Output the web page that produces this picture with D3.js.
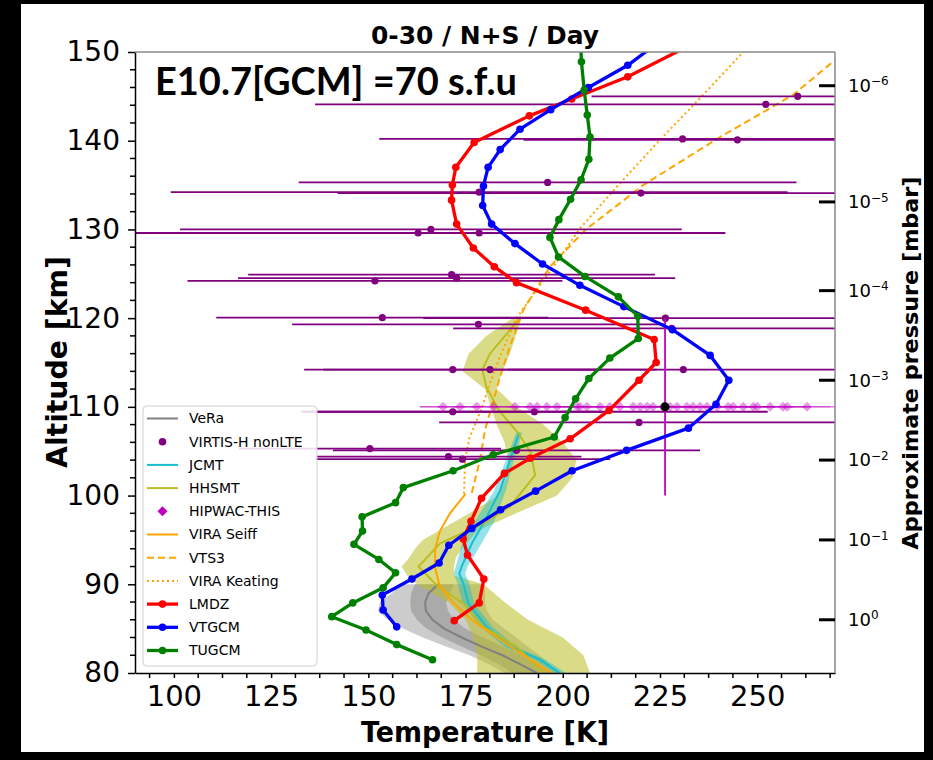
<!DOCTYPE html>
<html>
<head>
<meta charset="utf-8">
<script src="https://cdn.jsdelivr.net/npm/d3@7"></script>
<style>
body { margin: 0; background: #000; }
svg { display: block; }
</style>
</head>
<body>
<script>
// ---- data (altitude in km, temperature in K) ----
var lmdzAlt = [150.5, 147.2, 144.7, 142.8, 139.8, 137.0, 135.0, 133.3, 130.6, 127.9, 125.8, 124.0, 120.9, 117.6, 115.0, 113.0, 109.6, 106.4, 104.2, 102.5, 99.7, 97.1, 95.1, 93.3, 90.6, 87.9, 85.9];
var lmdzT   = [231.5, 216.7, 202.3, 191.4, 177.2, 172.5, 171.6, 171.4, 172.7, 177.0, 182.4, 188.1, 205.9, 223.5, 224.0, 219.6, 211.9, 201.9, 191.6, 185.0, 179.1, 176.4, 174.4, 175.5, 179.7, 178.5, 172.1];

var vtgcmAlt = [150.9, 148.5, 146.0, 143.5, 141.3, 139.0, 137.0, 134.9, 132.7, 130.6, 128.4, 126.1, 123.7, 121.3, 118.7, 115.8, 113.0, 110.3, 107.6, 105.1, 102.8, 100.5, 98.4, 96.3, 94.4, 92.4, 90.6, 88.8, 87.1, 85.2];
var vtgcmT   = [224.0, 216.7, 206.6, 196.9, 189.0, 183.9, 180.8, 179.6, 179.4, 181.7, 187.7, 194.8, 204.4, 215.7, 228.2, 237.9, 242.7, 239.4, 232.3, 216.4, 202.4, 193.0, 184.0, 176.6, 170.7, 168.2, 161.2, 153.6, 153.8, 157.3];

var tugcmAlt = [151.8, 148.9, 145.7, 142.9, 140.4, 137.9, 135.6, 133.4, 131.1, 129.1, 126.9, 124.7, 122.4, 120.2, 117.7, 115.5, 113.2, 110.9, 108.8, 106.6, 104.6, 102.8, 100.9, 99.2, 97.6, 96.0, 94.5, 92.8, 91.3, 89.6, 87.9, 86.35, 84.85, 83.2, 81.5];
var tugcmT   = [204.5, 204.8, 205.5, 206.3, 207.0, 206.7, 204.7, 202.0, 199.0, 196.7, 198.9, 205.7, 214.3, 219.3, 219.4, 212.1, 206.7, 203.3, 200.6, 197.8, 182.1, 171.8, 159.0, 157.0, 148.4, 148.5, 146.3, 152.7, 157.0, 153.8, 146.0, 140.6, 149.4, 157.3, 166.5];

var veraAlt    = [90, 89, 88, 87, 86, 85, 84, 83, 82, 81, 80];
var veraT      = [168.0, 165.5, 164.6, 164.8, 166.5, 169.5, 174.0, 179.0, 184.5, 189.0, 193.3];
var veraStdLo  = [162.0, 161.0, 160.8, 161.0, 162.5, 165.0, 169.0, 174.0, 179.0, 183.5, 187.0];
var veraStdHi  = [172.0, 171.0, 170.0, 170.5, 172.0, 175.0, 179.5, 184.5, 189.5, 193.5, 197.0];
var veraMinT   = [158.5, 156.0, 153.0, 152.5, 155.0, 159.0, 164.0, 170.0, 176.0, 181.0, 185.0];
var veraMaxT   = [180.0, 180.0, 180.0, 180.5, 182.0, 185.0, 188.0, 191.0, 194.0, 196.5, 199.0];

var jcmtAlt = [107.1, 104.0, 100.6, 97.2, 94.6, 92.0, 91.2, 90.0, 87.85, 85.2, 83.0, 81.5, 80.0];
var jcmtT   = [188.8, 186.4, 183.9, 180.0, 176.6, 174.0, 173.4, 174.5, 175.7, 180.4, 186.4, 194.1, 199.3];
var jcmtLo  = [188.0, 185.4, 182.4, 177.5, 174.1, 172.5, 171.9, 173.0, 174.2, 178.9, 184.9, 192.6, 197.8];
var jcmtHi  = [189.6, 187.4, 185.4, 182.5, 179.1, 175.5, 174.9, 176.0, 177.2, 181.9, 187.9, 195.6, 200.8];

var hhsmtAlt = [120.0, 116.0, 114.2, 112.2, 109.6, 107.0, 104.8, 102.3, 98.75, 97.05, 94.6, 92.0, 89.7, 87.85, 85.2, 83.0, 80.0];
var hhsmtT   = [189.0, 181.3, 179.3, 180.4, 183.6, 188.6, 191.8, 192.9, 186.4, 180.4, 168.4, 162.9, 168.0, 174.4, 179.6, 188.1, 195.0];
var hhsmtBandAlt = [120, 118, 116, 114, 112, 110, 108, 106, 104, 102, 100, 98, 96, 95, 94, 93, 92, 91, 90, 88, 86, 84, 82, 80];
var hhsmtLo = [187.1, 180.3, 175.8, 174.2, 180.0, 181.5, 183.0, 185.0, 186.0, 185.5, 183.5, 176.0, 168.0, 164.0, 162.0, 160.5, 158.6, 160.0, 162.5, 170.5, 175.0, 177.0, 178.0, 178.0];
var hhsmtHi = [189.4, 187.9, 186.4, 184.5, 183.0, 188.0, 195.0, 200.0, 203.5, 202.5, 198.5, 188.0, 178.0, 176.0, 174.0, 172.5, 172.0, 172.0, 179.6, 185.0, 191.0, 200.0, 205.3, 207.0];

var seiffAlt = [100.2, 98, 96, 94, 92, 90, 88, 86, 84, 82, 80];
var seiffT   = [175.0, 171.0, 168.4, 167.2, 167.1, 168.2, 171.6, 176.6, 183.1, 190.0, 197.0];

var vts3Alt = [100.3, 104.0, 107.4, 110.0, 113.4, 116.8, 120.9, 125.8, 129.9, 135.0, 140.3, 145.2, 149.1, 152.0];
var vts3T   = [176.6, 178.7, 180.0, 181.7, 183.9, 186.4, 189.8, 196.7, 205.7, 220.7, 240.0, 259.3, 270.0, 278.0];

var keatingAlt = [100.2, 104.0, 106.5, 110.0, 112.7, 115.7, 120.0, 123.0, 127.0, 130.1, 135.2, 140.1, 144.8, 150.5];
var keatingT   = [174.6, 174.9, 176.0, 179.3, 181.3, 183.9, 188.1, 193.0, 199.5, 204.4, 214.7, 225.0, 235.3, 247.5];

var virtisAlt = [145.0, 144.1, 140.2, 140.1, 135.3, 134.1, 134.2, 130.0, 129.6, 129.6, 124.9, 124.5, 124.2, 120.05, 120.0, 119.3, 118.85, 114.2, 114.2, 114.2, 109.45, 109.45, 108.25, 105.3, 105.1, 104.4, 104.1];
var virtisT   = [260.4, 252.2, 230.8, 244.9, 196.1, 220.1, 178.5, 166.1, 162.8, 178.5, 171.4, 172.7, 151.7, 153.6, 226.4, 178.3, 228.0, 171.7, 181.3, 231.0, 171.7, 192.7, 219.6, 150.4, 188.1, 170.6, 174.2];
var virtisErr = [53.0, 115.9, 78.0, 55.0, 64.0, 78.0, 79.3, 64.5, 79.0, 60.0, 52.3, 56.2, 48.2, 42.7, 62.3, 47.9, 56.2, 38.2, 42.9, 45.0, 38.4, 60.0, 51.4, 33.7, 47.2, 34.2, 38.0];

var hipwacAlt = 110;
var hipwacT = [169.2, 173.6, 177.9, 182.1, 187.7, 191.6, 193.4, 195.9, 198.5, 203.7, 204.4, 206.2, 209.6, 212.1, 214.7, 218.1, 219.9, 221.7, 223.2, 225.8, 227.6, 229.4, 231.9, 233.5, 235.3, 237.1, 239.7, 242.5, 243.8, 246.4, 249.0, 250.0, 253.3, 256.6, 257.7, 262.8];
var hipwacErr = 6;
var hipwacMean = { t: 226.3, a: 110, errA: 10, errT: 63 };

var xTicks = [100, 125, 150, 175, 200, 225, 250];
var yTicks = [80, 90, 100, 110, 120, 130, 140, 150];
var pressureExp = [-6, -5, -4, -3, -2, -1, 0];
var pressureAlt = [146.2, 133.1, 123.1, 113.0, 104.0, 95.0, 86.0];

var legendNames = ["VeRa", "VIRTIS-H nonLTE", "JCMT", "HHSMT", "HIPWAC-THIS", "VIRA Seiff", "VTS3", "VIRA Keating", "LMDZ", "VTGCM", "TUGCM"];

// ---- drawing ----
var W = 933, H = 760;
var svg = d3.select("body").append("svg")
    .attr("width", W)
    .attr("height", H)
    .style("font-family", "'DejaVu Sans', sans-serif");

svg.append("rect").attr("width", W).attr("height", H).attr("fill", "#000");
svg.append("rect").attr("x", 21).attr("y", 4).attr("width", 903).attr("height", 748).attr("fill", "#fff");

var x = d3.scaleLinear().domain([90, 270]).range([135, 835]);
var y = d3.scaleLinear().domain([80, 150]).range([673, 52]);

svg.append("clipPath").attr("id", "plot")
    .append("rect").attr("x", 135).attr("y", 52).attr("width", 700).attr("height", 621);

var plot = svg.append("g").attr("clip-path", "url(#plot)");

function zipAT(alts, ts) {
    return alts.map(function(a, i) { return { a: a, t: ts[i] }; });
}
function zipBand(alts, lo, hi) {
    return alts.map(function(a, i) { return { a: a, lo: lo[i], hi: hi[i] }; });
}

var line = d3.line().x(function(d) { return x(d.t); }).y(function(d) { return y(d.a); });
var band = d3.area()
    .y(function(d) { return y(d.a); })
    .x0(function(d) { return x(d.lo); })
    .x1(function(d) { return x(d.hi); });

// bands
plot.append("path").datum(zipBand(veraAlt, veraMinT, veraMaxT))
    .attr("d", band).attr("fill", "#808080").attr("fill-opacity", 0.4);
plot.append("path").datum(zipBand(veraAlt, veraStdLo, veraStdHi))
    .attr("d", band).attr("fill", "#808080").attr("fill-opacity", 0.45);
plot.append("path").datum(zipBand(hhsmtBandAlt, hhsmtLo, hhsmtHi))
    .attr("d", band).attr("fill", "#bcbd22").attr("fill-opacity", 0.55);
plot.append("path").datum(zipBand(jcmtAlt, jcmtLo, jcmtHi))
    .attr("d", band).attr("fill", "#17becf").attr("fill-opacity", 0.45);

// observation lines
plot.append("path").datum(zipAT(veraAlt, veraT)).attr("d", line)
    .attr("fill", "none").attr("stroke", "#808080").attr("stroke-width", 2);
plot.append("path").datum(zipAT(jcmtAlt, jcmtT)).attr("d", line)
    .attr("fill", "none").attr("stroke", "#17becf").attr("stroke-width", 2);
plot.append("path").datum(zipAT(hhsmtAlt, hhsmtT)).attr("d", line)
    .attr("fill", "none").attr("stroke", "#bcbd22").attr("stroke-width", 2);

// VIRA reference profiles
plot.append("path").datum(zipAT(seiffAlt, seiffT)).attr("d", line)
    .attr("fill", "none").attr("stroke", "#ffa500").attr("stroke-width", 2);
plot.append("path").datum(zipAT(vts3Alt, vts3T)).attr("d", line)
    .attr("fill", "none").attr("stroke", "#ffa500").attr("stroke-width", 2)
    .attr("stroke-dasharray", "7,4");
plot.append("path").datum(zipAT(keatingAlt, keatingT)).attr("d", line)
    .attr("fill", "none").attr("stroke", "#ffa500").attr("stroke-width", 2)
    .attr("stroke-dasharray", "2,3");

// VIRTIS-H error bars and points
var virtis = virtisAlt.map(function(a, i) { return { a: a, t: virtisT[i], e: virtisErr[i] }; });
plot.selectAll(".verr").data(virtis).enter().append("line")
    .attr("x1", function(d) { return x(d.t - d.e); })
    .attr("x2", function(d) { return x(d.t + d.e); })
    .attr("y1", function(d) { return y(d.a); })
    .attr("y2", function(d) { return y(d.a); })
    .attr("stroke", "#800080").attr("stroke-width", 1.8);
plot.selectAll(".vdot").data(virtis).enter().append("circle")
    .attr("cx", function(d) { return x(d.t); })
    .attr("cy", function(d) { return y(d.a); })
    .attr("r", 3.6).attr("fill", "#800080");

// HIPWAC-THIS
plot.selectAll(".herr").data(hipwacT).enter().append("line")
    .attr("x1", function(d) { return x(d - hipwacErr); })
    .attr("x2", function(d) { return x(d + hipwacErr); })
    .attr("y1", y(hipwacAlt)).attr("y2", y(hipwacAlt))
    .attr("stroke", "#c000c0").attr("stroke-opacity", 0.35).attr("stroke-width", 1.5);
plot.append("line")
    .attr("x1", x(hipwacMean.t - hipwacMean.errT)).attr("x2", x(hipwacMean.t + hipwacMean.errT))
    .attr("y1", y(hipwacMean.a)).attr("y2", y(hipwacMean.a))
    .attr("stroke", "#c000c0").attr("stroke-opacity", 0.5).attr("stroke-width", 1.5);
var diamond = "M0,-5L5,0L0,5L-5,0Z";
plot.selectAll(".hdia").data(hipwacT).enter().append("path")
    .attr("d", diamond)
    .attr("transform", function(d) { return "translate(" + x(d) + "," + y(hipwacAlt) + ")"; })
    .attr("fill", "#c000c0").attr("fill-opacity", 0.4);
plot.append("line")
    .attr("x1", x(hipwacMean.t)).attr("x2", x(hipwacMean.t))
    .attr("y1", y(hipwacMean.a - hipwacMean.errA)).attr("y2", y(hipwacMean.a + hipwacMean.errA))
    .attr("stroke", "#c000c0").attr("stroke-width", 1.8);
plot.append("circle").attr("cx", x(hipwacMean.t)).attr("cy", y(hipwacMean.a))
    .attr("r", 4.5).attr("fill", "#000");

// GCM profiles
function model(alts, ts, color) {
    var data = zipAT(alts, ts);
    plot.append("path").datum(data).attr("d", line)
        .attr("fill", "none").attr("stroke", color).attr("stroke-width", 3.3)
        .attr("stroke-linejoin", "round");
    plot.selectAll(null).data(data).enter().append("circle")
        .attr("cx", function(d) { return x(d.t); })
        .attr("cy", function(d) { return y(d.a); })
        .attr("r", 3.8).attr("fill", color);
}
model(lmdzAlt, lmdzT, "#ff0000");
model(vtgcmAlt, vtgcmT, "#0000ff");
model(tugcmAlt, tugcmT, "#008000");

// ---- axes ----
var xAxis = svg.append("g").attr("transform", "translate(0,673)")
    .call(d3.axisBottom(x).tickValues(xTicks).tickSize(5).tickSizeOuter(0).tickPadding(7));
xAxis.selectAll("text").attr("font-size", 29).attr("fill", "#000").attr("font-family", "'DejaVu Sans'");
var xMinor = d3.range(93.75, 270, 6.25).filter(function(v) { return xTicks.indexOf(v) < 0; });
svg.append("g").selectAll("line").data(xMinor).enter().append("line")
    .attr("x1", function(d) { return x(d); }).attr("x2", function(d) { return x(d); })
    .attr("y1", 673).attr("y2", 678).attr("stroke", "#000").attr("stroke-width", 1.5);

var yAxis = svg.append("g").attr("transform", "translate(135,0)")
    .call(d3.axisLeft(y).tickValues(yTicks).tickSize(7).tickSizeOuter(0).tickPadding(8));
yAxis.selectAll("text").attr("font-size", 28).attr("fill", "#000").attr("font-family", "'DejaVu Sans'");
var yMinor = d3.range(82, 150, 2).filter(function(v) { return yTicks.indexOf(v) < 0; });
svg.append("g").selectAll("line").data(yMinor).enter().append("line")
    .attr("x1", 130).attr("x2", 135)
    .attr("y1", function(d) { return y(d); }).attr("y2", function(d) { return y(d); })
    .attr("stroke", "#000").attr("stroke-width", 1.5);
svg.selectAll(".domain").attr("stroke", "#000").attr("stroke-width", 1.5);
svg.selectAll(".tick line").attr("stroke-width", 1.5);

// top and right spines
svg.append("line").attr("x1", 135).attr("x2", 835).attr("y1", 52).attr("y2", 52)
    .attr("stroke", "#888").attr("stroke-width", 1.5);
svg.append("line").attr("x1", 835).attr("x2", 835).attr("y1", 52).attr("y2", 673)
    .attr("stroke", "#888").attr("stroke-width", 1.5);

// right pressure axis
var pr = svg.append("g").selectAll("g").data(pressureExp).enter().append("g")
    .attr("transform", function(d, i) { return "translate(835," + y(pressureAlt[i]) + ")"; });
pr.append("line").attr("x1", -16).attr("x2", 0).attr("stroke", "#000").attr("stroke-width", 3);
var prText = pr.append("text").attr("x", 13).attr("dy", "0.35em").attr("font-size", 18);
prText.append("tspan").text("10");
prText.append("tspan").attr("dy", "-0.55em").attr("font-size", 12)
    .text(function(d) { return d === 0 ? "0" : "\u2212" + Math.abs(d); });

// ---- labels ----
svg.append("text").attr("x", 485).attr("y", 44).attr("text-anchor", "middle")
    .attr("font-size", 24).attr("font-weight", "bold").attr("textLength", 228)
    .attr("lengthAdjust", "spacingAndGlyphs")
    .text("0-30 / N+S / Day");
svg.append("text").attr("x", 155).attr("y", 95)
    .attr("font-family", "Lato, 'Open Sans', sans-serif")
    .attr("font-size", 38).attr("font-weight", "bold").attr("textLength", 362)
    .attr("lengthAdjust", "spacingAndGlyphs")
    .text("E10.7[GCM] =70 s.f.u");
svg.append("text").attr("x", 485).attr("y", 742).attr("text-anchor", "middle")
    .attr("font-size", 28).attr("font-weight", "bold").attr("textLength", 248)
    .attr("lengthAdjust", "spacingAndGlyphs")
    .text("Temperature [K]");
svg.append("text").attr("transform", "translate(67,362) rotate(-90)").attr("text-anchor", "middle")
    .attr("font-size", 28).attr("font-weight", "bold").attr("textLength", 212)
    .attr("lengthAdjust", "spacingAndGlyphs")
    .text("Altitude [km]");
svg.append("text").attr("transform", "translate(918,363) rotate(-90)").attr("text-anchor", "middle")
    .attr("font-size", 21).attr("font-weight", "bold").attr("textLength", 373)
    .attr("lengthAdjust", "spacingAndGlyphs")
    .text("Approximate pressure [mbar]");

// ---- legend ----
var lg = svg.append("g");
lg.append("rect").attr("x", 143).attr("y", 406).attr("width", 174).attr("height", 260)
    .attr("rx", 4).attr("fill", "#fff").attr("fill-opacity", 0.85)
    .attr("stroke", "#d0d0d0").attr("stroke-width", 1);
var legendStyle = [
    { color: "#808080", w: 2, dash: null, marker: null },
    { color: "#800080", w: 0, dash: null, marker: "dot" },
    { color: "#17becf", w: 2, dash: null, marker: null },
    { color: "#bcbd22", w: 2, dash: null, marker: null },
    { color: "#c000c0", w: 0, dash: null, marker: "diamond" },
    { color: "#ffa500", w: 2, dash: null, marker: null },
    { color: "#ffa500", w: 2, dash: "7,4", marker: null },
    { color: "#ffa500", w: 2, dash: "2,3", marker: null },
    { color: "#ff0000", w: 3.3, dash: null, marker: "dot" },
    { color: "#0000ff", w: 3.3, dash: null, marker: "dot" },
    { color: "#008000", w: 3.3, dash: null, marker: "dot" }
];
var items = lg.selectAll(".item").data(legendNames).enter().append("g")
    .attr("transform", function(d, i) { return "translate(0," + (418.5 + i * 23.2) + ")"; });
items.each(function(d, i) {
    var s = legendStyle[i], g = d3.select(this);
    if (s.w > 0) {
        g.append("line").attr("x1", 147).attr("x2", 178).attr("stroke", s.color)
            .attr("stroke-width", s.w).attr("stroke-dasharray", s.dash);
    }
    if (s.marker === "dot") {
        g.append("circle").attr("cx", 162.5).attr("r", 3.8).attr("fill", s.color);
    } else if (s.marker === "diamond") {
        g.append("path").attr("d", diamond).attr("transform", "translate(162.5,0)").attr("fill", s.color);
    }
    g.append("text").attr("x", 189).attr("dy", "0.35em").attr("font-size", 14).text(d);
});
</script>
</body>
</html>
